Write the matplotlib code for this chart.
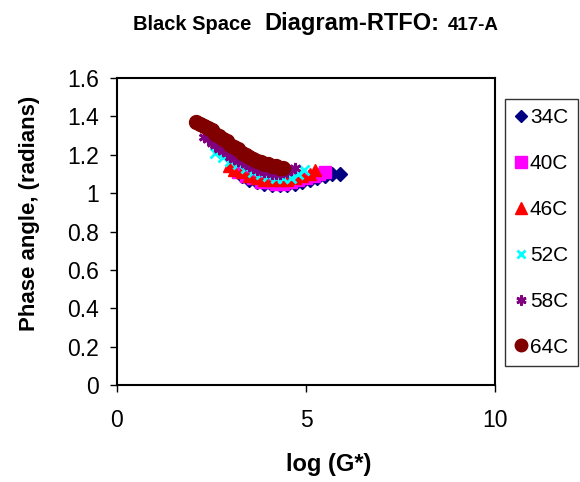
import matplotlib
matplotlib.use("Agg")
import matplotlib.pyplot as plt
from matplotlib.lines import Line2D

plt.rcParams['font.family'] = ['Liberation Sans', 'DejaVu Sans']

labels = ["34C", "40C", "46C", "52C", "58C", "64C"]
colors = ["#000080", "#FF00FF", "#FF0000", "#00FFFF", "#800080", "#800000"]
markers = ["D", "s", "^", "x", (6, 2, 0), "o"]
msizes = [7, 9, 9, 7, 8, 10]

x34 = [3.3, 3.5, 3.7, 3.9, 4.1, 4.3, 4.5, 4.7, 4.9, 5.1, 5.3, 5.5, 5.7, 5.9]
y34 = [1.09, 1.07, 1.06, 1.05, 1.04, 1.04, 1.04, 1.05, 1.06, 1.07, 1.08, 1.09, 1.10, 1.10]
x40 = [3.2, 3.4, 3.6, 3.8, 4.0, 4.2, 4.4, 4.6, 4.8, 5.0, 5.2, 5.35, 5.5]
y40 = [1.11, 1.09, 1.08, 1.06, 1.06, 1.05, 1.05, 1.06, 1.07, 1.08, 1.09, 1.10, 1.11]
x46 = [2.95, 3.1, 3.3, 3.5, 3.7, 3.9, 4.1, 4.3, 4.5, 4.7, 4.9, 5.1, 5.25]
y46 = [1.14, 1.12, 1.11, 1.09, 1.08, 1.07, 1.07, 1.07, 1.07, 1.08, 1.09, 1.10, 1.12]
x52 = [2.6, 2.8, 3.0, 3.2, 3.4, 3.6, 3.8, 4.0, 4.2, 4.4, 4.6, 4.8, 4.95]
y52 = [1.21, 1.19, 1.17, 1.15, 1.13, 1.11, 1.10, 1.09, 1.08, 1.08, 1.08, 1.10, 1.12]
x58 = [2.3, 2.4, 2.5, 2.6, 2.7, 2.8, 2.9, 3.0, 3.1, 3.2, 3.3, 3.4, 3.5, 3.6, 3.7,
       3.8, 3.9, 4.0, 4.1, 4.2, 4.3, 4.4, 4.5, 4.6, 4.7]
y58 = [1.29, 1.28, 1.26, 1.25, 1.23, 1.22, 1.21, 1.19, 1.18, 1.17, 1.16, 1.15, 1.14,
       1.13, 1.12, 1.12, 1.11, 1.11, 1.10, 1.10, 1.10, 1.11, 1.11, 1.12, 1.13]
x64 = [2.1, 2.2, 2.3, 2.4, 2.5, 2.6, 2.7, 2.8, 2.9, 3.0, 3.1, 3.2, 3.3, 3.4, 3.5,
       3.6, 3.7, 3.8, 3.9, 4.0, 4.1, 4.2, 4.3, 4.4]
y64 = [1.37, 1.36, 1.35, 1.34, 1.33, 1.31, 1.30, 1.28, 1.27, 1.25, 1.24, 1.23, 1.21,
       1.20, 1.19, 1.18, 1.17, 1.16, 1.15, 1.15, 1.14, 1.14, 1.13, 1.13]

xs = [x34, x40, x46, x52, x58, x64]
ys = [y34, y40, y46, y52, y58, y64]

xticks = [0, 5, 10]
yticks = [0, 0.2, 0.4, 0.6, 0.8, 1, 1.2, 1.4, 1.6]
yticklabels = ["0", "0.2", "0.4", "0.6", "0.8", "1", "1.2", "1.4", "1.6"]

W, H = 580, 482
fig = plt.figure(figsize=(W / 100, H / 100), dpi=100)
ax = fig.add_axes([117 / W, 1 - 385 / H, (495 - 117) / W, (385 - 78) / H])

handles = []
for x, y, c, m, ms, lab in zip(xs, ys, colors, markers, msizes, labels):
    mew = 2 if m in ("x", (6, 2, 0)) else 1
    ax.plot(x, y, linestyle="none", marker=m, color=c, markersize=ms,
            markeredgecolor=c, markeredgewidth=mew, label=lab)
    handles.append(Line2D([], [], linestyle="none", marker=m, color=c,
                          markersize=ms * 0.9, markeredgecolor=c, markeredgewidth=mew))

ax.set_xlim(0, 10)
ax.set_ylim(0, 1.6)
ax.set_xticks(xticks)
ax.set_xticklabels([str(t) for t in xticks])
ax.set_yticks(yticks)
ax.set_yticklabels(yticklabels)
ax.tick_params(direction="out", length=5, width=1, labelsize=16.5, pad=8)
ax.tick_params(axis="x", pad=12)
for s in ax.spines.values():
    s.set_linewidth(1.5)

ax.set_xlabel("log (G*)", fontsize=17, fontweight="bold")
ax.xaxis.set_label_coords(0.561, -0.222)
ax.set_ylabel("Phase angle, (radians)", fontsize=16, fontweight="bold")
ax.yaxis.set_label_coords(-0.205, 0.56)

leg = fig.legend(handles, labels, loc="upper left",
                 bbox_to_anchor=(505 / W, 1 - 99 / H), borderaxespad=0,
                 fontsize=15, labelspacing=1.29, handlelength=0.6, handletextpad=0.15,
                 borderpad=0.45, fancybox=False, frameon=True, edgecolor="black")
leg.get_frame().set_linewidth(1.0)

ty = 1 - 30 / H
fig.text(133 / W, ty, "Black Space", fontsize=14.5, fontweight="bold", va="baseline")
fig.text(264 / W, ty, "Diagram-RTFO:", fontsize=17, fontweight="bold", va="baseline")
fig.text(448 / W, ty, "417-A", fontsize=13.5, fontweight="bold", va="baseline")

fig.savefig("out.png", dpi=100)
